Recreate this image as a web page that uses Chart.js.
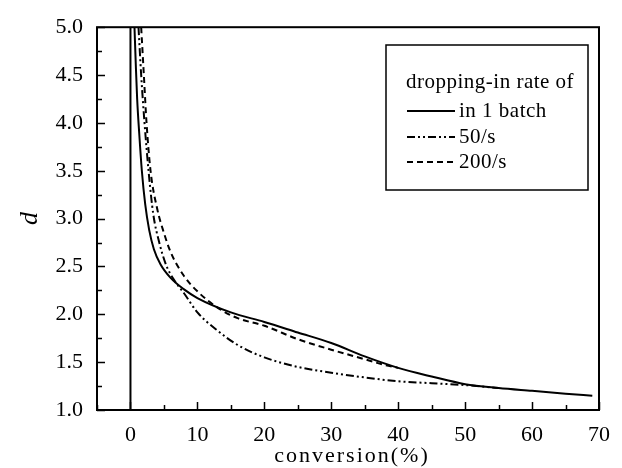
<!DOCTYPE html>
<html>
<head>
<meta charset="utf-8">
<script src="https://cdn.jsdelivr.net/npm/chart.js@4.4.1/dist/chart.umd.min.js"></script>
<style>
  html, body { margin: 0; padding: 0; background: #fff; }
  #wrap { width: 622px; height: 468px; }
</style>
</head>
<body>
<div id="wrap"><canvas id="dChart" width="622" height="468"></canvas></div>
<script>
// conversion (%) vs d
const batchX = [0.6, 0.8, 1.0, 1.3, 1.7, 2.2, 2.8, 3.5, 4.5, 6.0, 8.0, 10, 15, 20, 25, 30, 35, 40, 45, 50, 55, 60, 65, 69];
const batchY = [5.0, 4.6, 4.25, 3.9, 3.5, 3.15, 2.88, 2.68, 2.52, 2.38, 2.26, 2.17, 2.02, 1.92, 1.81, 1.70, 1.56, 1.44, 1.35, 1.27, 1.23, 1.20, 1.17, 1.15];

const rate50X = [1.2, 1.6, 2.1, 2.7, 3.4, 4.3, 5.3, 6.5, 8.0, 10, 13, 16, 20, 25, 30, 35, 40, 45, 50, 55];
const rate50Y = [5.0, 4.5, 4.0, 3.5, 3.05, 2.75, 2.52, 2.36, 2.22, 2.02, 1.83, 1.68, 1.55, 1.45, 1.39, 1.34, 1.30, 1.28, 1.26, 1.23];

const rate200X = [1.6, 2.0, 2.4, 3.0, 4.0, 5.0, 6.0, 8.0, 10, 13, 16, 20, 25, 30, 33, 36, 38, 40];
const rate200Y = [5.0, 4.5, 4.0, 3.5, 3.1, 2.85, 2.65, 2.4, 2.24, 2.07, 1.96, 1.88, 1.74, 1.63, 1.57, 1.51, 1.47, 1.44];

// vertical line at zero conversion
const zeroX = [0, 0];
const zeroY = [1.0, 5.0];

const xTicks = [0, 10, 20, 30, 40, 50, 60, 70];
const yTicks = [1.0, 1.5, 2.0, 2.5, 3.0, 3.5, 4.0, 4.5, 5.0];
const legendTitle = "dropping-in rate of";
const seriesNames = ["in 1 batch", "50/s", "200/s"];

const pts = (xs, ys) => xs.map((x, i) => ({ x: x, y: ys[i] }));

const serif = "'Liberation Serif', 'DejaVu Serif', serif";

// inward ticks, frame and boxed legend
const decor = {
  id: "decor",
  afterDatasetsDraw(chart) {
    const { ctx, chartArea: a, scales } = chart;
    const xs = scales.x, ys = scales.y;
    ctx.save();
    ctx.strokeStyle = "#000";
    ctx.lineWidth = 2;
    ctx.strokeRect(a.left, a.top, a.right - a.left, a.bottom - a.top);
    ctx.lineWidth = 1.5;
    ctx.beginPath();
    for (let v = -5; v <= 70; v += 5) {
      const len = v % 10 === 0 ? 8 : 5;
      const px = Math.round(xs.getPixelForValue(v)) + 0.5;
      ctx.moveTo(px, a.bottom);
      ctx.lineTo(px, a.bottom - len);
    }
    for (let v = 1; v <= 5.001; v += 0.25) {
      const len = Math.abs(v * 2 - Math.round(v * 2)) < 0.01 ? 8 : 5;
      const py = Math.round(ys.getPixelForValue(v)) + 0.5;
      ctx.moveTo(a.left, py);
      ctx.lineTo(a.left + len, py);
    }
    ctx.stroke();

    // legend box
    const bx = 386, by = 45, bw = 202, bh = 145;
    ctx.lineWidth = 1.5;
    ctx.fillStyle = "#fff";
    ctx.fillRect(bx, by, bw, bh);
    ctx.strokeRect(bx, by, bw, bh);
    ctx.fillStyle = "#000";
    ctx.font = "21px " + serif;
    ctx.letterSpacing = "0.5px";
    ctx.textBaseline = "middle";
    ctx.textAlign = "left";
    ctx.fillText(legendTitle, 406, 82);
    const rows = [111, 137, 162];
    chart.data.datasets.slice(0, 3).forEach((ds, i) => {
      ctx.save();
      ctx.strokeStyle = ds.borderColor;
      ctx.lineWidth = ds.borderWidth;
      ctx.setLineDash(ds.borderDash || []);
      ctx.beginPath();
      ctx.moveTo(407, rows[i]);
      ctx.lineTo(455, rows[i]);
      ctx.stroke();
      ctx.restore();
      ctx.fillText(seriesNames[i], 459, rows[i]);
    });

    // x axis title
    ctx.textAlign = "center";
    ctx.font = "22px " + serif;
    ctx.letterSpacing = "2px";
    ctx.fillText("conversion(%)", (a.left + a.right) / 2 + 4, 456);
    ctx.restore();
  }
};

new Chart(document.getElementById("dChart"), {
  type: "scatter",
  data: {
    datasets: [
      {
        label: seriesNames[0],
        data: pts(batchX, batchY),
        borderColor: "#000",
        borderWidth: 2,
      },
      {
        label: seriesNames[1],
        data: pts(rate50X, rate50Y),
        borderColor: "#000",
        borderWidth: 2,
        borderDash: [8, 3, 2, 3, 2, 3],
      },
      {
        label: seriesNames[2],
        data: pts(rate200X, rate200Y),
        borderColor: "#000",
        borderWidth: 2,
        borderDash: [6, 4],
      },
      {
        label: "zero",
        data: pts(zeroX, zeroY),
        borderColor: "#000",
        borderWidth: 2,
      },
    ].map(ds => Object.assign(ds, {
      showLine: true,
      pointRadius: 0,
      fill: false,
      cubicInterpolationMode: "monotone",
    })),
  },
  options: {
    responsive: false,
    animation: false,
    layout: { padding: { top: 23, right: 13, left: 0, bottom: 0 } },
    plugins: {
      legend: { display: false },
      tooltip: { enabled: false },
    },
    scales: {
      x: {
        type: "linear",
        min: -5,
        max: 70,
        afterBuildTicks: (s) => { s.ticks = xTicks.map(v => ({ value: v })); },
        afterFit: (s) => { s.height = 58; },
        grid: { display: false, drawTicks: false },
        border: { display: false },
        ticks: {
          color: "#000",
          padding: 12,
          font: { family: serif, size: 22 },
        },
        title: { display: false },
      },
      y: {
        type: "linear",
        min: 1.0,
        max: 5.0,
        afterBuildTicks: (s) => { s.ticks = yTicks.map(v => ({ value: v })); },
        afterFit: (s) => { s.width = 97; },
        grid: { display: false, drawTicks: false },
        border: { display: false },
        ticks: {
          color: "#000",
          padding: 14,
          font: { family: serif, size: 22 },
          callback: (v) => v.toFixed(1),
        },
        title: {
          display: true,
          text: "d",
          color: "#000",
          padding: { top: 15, bottom: 4 },
          font: { family: serif, size: 26, style: "italic" },
        },
      },
    },
  },
  plugins: [decor],
});
</script>
</body>
</html>
